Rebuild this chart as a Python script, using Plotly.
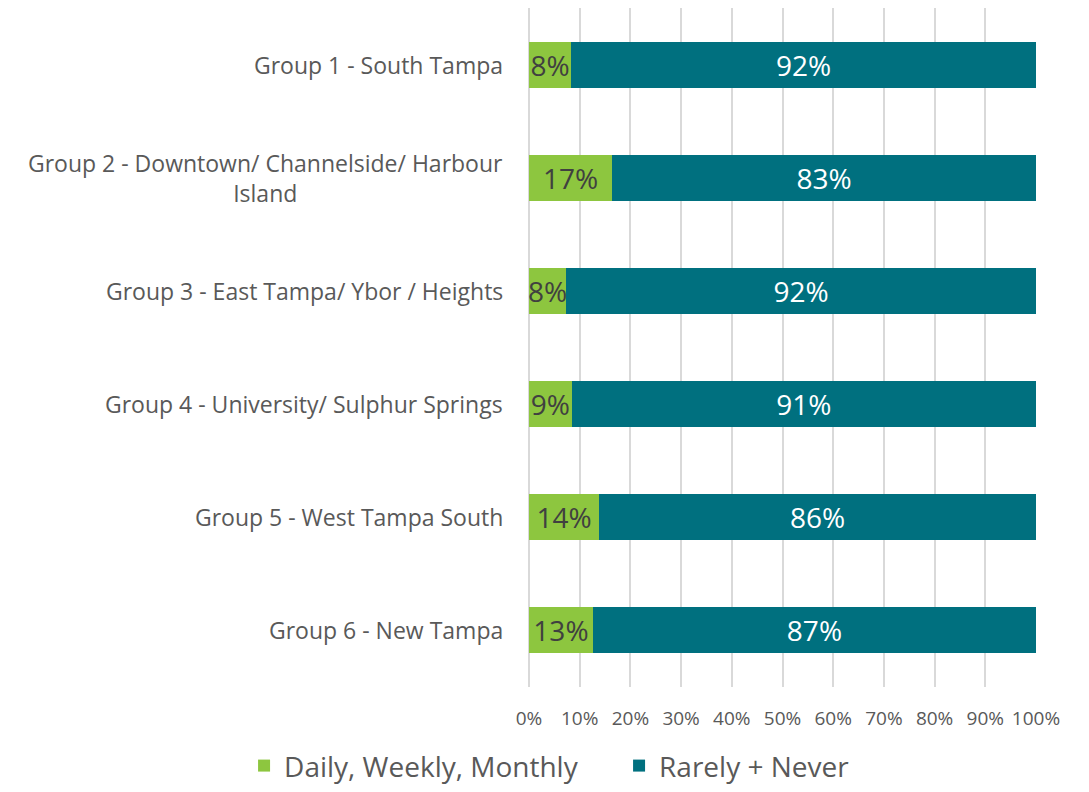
import plotly.graph_objects as go

groups = [
    "Group 1 - South Tampa",
    "Group 2 - Downtown/ Channelside/ Harbour<br>Island",
    "Group 3 - East Tampa/ Ybor / Heights",
    "Group 4 - University/ Sulphur Springs",
    "Group 5 - West Tampa South",
    "Group 6 - New Tampa",
]
daily = [8.3, 16.4, 7.3, 8.4, 13.8, 12.6]
rarely = [91.7, 83.6, 92.7, 91.6, 86.2, 87.4]
daily_labels = ["8%", "17%", "8%", "9%", "14%", "13%"]
rarely_labels = ["92%", "83%", "92%", "91%", "86%", "87%"]
x_ticks = [0, 10, 20, 30, 40, 50, 60, 70, 80, 90, 100]
x_tick_labels = ["0%", "10%", "20%", "30%", "40%", "50%", "60%", "70%", "80%", "90%", "100%"]

FONT = "Open Sans"
GREEN = "#8DC63F"
TEAL = "#00707F"

fig = go.Figure()
fig.add_trace(go.Bar(
    y=groups, x=daily, orientation="h", name="Daily, Weekly, Monthly",
    marker=dict(color=GREEN, line=dict(width=0)),
    text=daily_labels, textposition="inside", insidetextanchor="middle",
    constraintext="none", textangle=0, cliponaxis=False,
    textfont=dict(family=FONT, size=28, color="#404040"),
    hoverinfo="skip",
))
fig.add_trace(go.Bar(
    y=groups, x=rarely, orientation="h", name="Rarely + Never",
    marker=dict(color=TEAL, line=dict(width=0)),
    text=rarely_labels, textposition="inside", insidetextanchor="middle",
    constraintext="none", textangle=0,
    textfont=dict(family=FONT, size=28, color="white"),
    hoverinfo="skip",
))

for g in groups:
    fig.add_annotation(
        x=0, xref="paper", y=g, yref="y", text=g, showarrow=False,
        xanchor="right", yanchor="middle", align="center", xshift=-24,
        font=dict(family=FONT, size=23, color="#595959"),
    )

fig.update_layout(
    barmode="stack",
    bargap=0.593,
    width=1089, height=792,
    margin=dict(l=529, r=53, t=8, b=105, autoexpand=False),
    paper_bgcolor="white", plot_bgcolor="white",
    font=dict(family=FONT, color="#595959"),
    legend=dict(
        orientation="h", xref="paper", yref="paper",
        x=-0.562, xanchor="left", y=-0.153, yanchor="bottom",
        font=dict(family=FONT, size=28, color="#595959"),
        traceorder="normal", entrywidth=330, itemwidth=30,
    ),
    xaxis=dict(
        range=[0, 100], tickvals=x_ticks, ticktext=x_tick_labels,
        showgrid=True, gridcolor="#D9D9D9", gridwidth=2,
        zeroline=True, zerolinecolor="#D9D9D9", zerolinewidth=2,
        showline=False, ticks="", ticklabelstandoff=18,
        tickfont=dict(family=FONT, size=19, color="#595959"),
        fixedrange=True,
    ),
    yaxis=dict(
        categoryorder="array", categoryarray=groups, autorange="reversed",
        showticklabels=False, showgrid=False, zeroline=False, showline=False,
        fixedrange=True,
    ),
    showlegend=True,
)

fig.write_html(
    "out.html",
    config={"displayModeBar": False},
    post_script="document.body.style.margin='0';document.body.style.overflow='hidden';",
)
